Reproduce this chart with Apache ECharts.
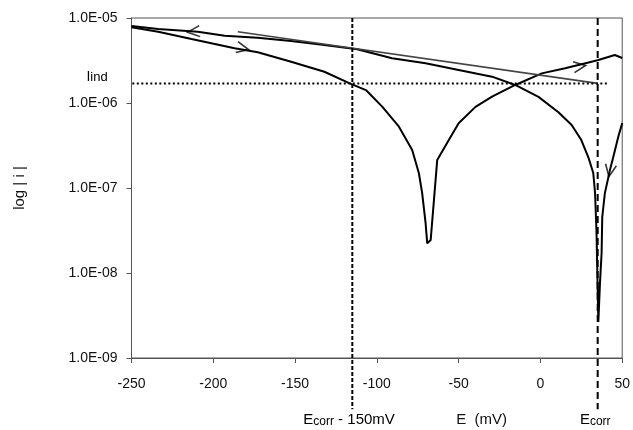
<!DOCTYPE html>
<html>
<head>
<meta charset="utf-8">
<title>log|i| - E</title>
<script src="https://cdn.jsdelivr.net/npm/echarts@6.0.0/dist/echarts.min.js"></script>
<style>
    html, body { margin: 0; padding: 0; background: #fff; }
    #main { width: 633px; height: 430px; }
</style>
</head>
<body>
<div id="main"></div>
<script type="text/javascript">

// forward scan, -250 -> +50 mV
var fwdE = [-250, -233.7, -213.3, -187, -172.8, -152.4, -132.1, -116.9, -106.7, -96.6, -86.5, -78.4,
            -74.3, -72.3, -70.2, -69.2, -67.1, -65.1, -63.1, -56, -50, -39.7, -29.6, -15.4, 0.8,
            15.1, 31.3, 35.4, 45.5, 50];
var fwdI = [7.8e-6, 6.9e-6, 5.66e-6, 4.4e-6, 3.95e-6, 3.06e-6, 2.33e-6, 1.71e-6, 1.42e-6, 9.0e-7, 5.26e-7, 2.8e-7,
            1.49e-7, 8.7e-8, 3.85e-8, 2.23e-8, 2.44e-8, 7.2e-8, 2.13e-7, 3.67e-7, 5.77e-7, 9.0e-7, 1.19e-6, 1.63e-6, 2.23e-6,
            2.56e-6, 3.06e-6, 3.2e-6, 3.67e-6, 3.38e-6];

// reverse scan, +50 -> -250 mV
var revE = [50, 47.6, 44.5, 42.5, 39.4, 37.8, 37.4, 36.4, 35.4, 35.0, 34.3, 33.4, 32.3, 29.3, 25, 19.1,
            11, -1.2, -15.4, -29.6, -50, -70.2, -90.7, -112, -132.1, -152.4, -173, -193, -209.5, -233.7, -250];
var revI = [5.8e-7, 4.0e-7, 2.3e-7, 1.63e-7, 8.7e-8, 4.56e-8, 1.72e-8, 7.6e-9, 2.65e-9, 6.3e-9, 2.95e-8, 8.7e-8, 1.5e-7, 2.3e-7, 3.67e-7, 5.5e-7,
            7.8e-7, 1.18e-6, 1.63e-6, 2.04e-6, 2.45e-6, 2.93e-6, 3.36e-6, 4.28e-6, 4.8e-6, 5.36e-6, 5.86e-6, 6.2e-6, 6.9e-6, 7.4e-6, 8.05e-6];

// straight extrapolation line
var tafelE = [-185, 35];
var tafelI = [6.9e-6, 1.7e-6];

var ecorr = 35;
var ecorrShift = -115;      // Ecorr - 150mV
var iInd = 1.7e-6;
var iIndSpan = [-255, 42];
var guideSpan = [1e-5, 2.5e-10];

// scan direction arrows: E, i, angle
var arrowE = [-212, -182, 24, 42.5];
var arrowI = [6.9e-6, 4.4e-6, 2.7e-6, 1.6e-7];
var arrowAngle = [185, -12, 8, -100];

var xTicks = [-250, -200, -150, -100, -50, 0, 50];
var yTickLabels = ['1.0E-09', '1.0E-08', '1.0E-07', '1.0E-06', '1.0E-05'];

function pairs(xs, ys) {
    return xs.map(function (x, k) { return [x, ys[k]]; });
}

var font = 'Liberation Sans';
var myChart = echarts.init(document.getElementById('main'));

var option = {
    animation: false,
    backgroundColor: '#fff',
    grid: {
        left: 131.5, right: 9, top: 18, bottom: 72,
        show: true, borderColor: '#555', borderWidth: 1
    },
    xAxis: {
        type: 'value',
        min: xTicks[0], max: xTicks[xTicks.length - 1], interval: 50,
        axisLine: { onZero: false, lineStyle: { color: '#555' } },
        axisTick: { length: 5, lineStyle: { color: '#555' } },
        axisLabel: { margin: 19, color: '#111', fontFamily: font, fontSize: 14 },
        splitLine: { show: false }
    },
    yAxis: {
        type: 'log', logBase: 10,
        min: 1e-9, max: 1e-5,
        name: 'log | i |',
        nameLocation: 'middle',
        nameGap: 104,
        nameTextStyle: { color: '#111', fontFamily: font, fontSize: 15 },
        axisLine: { show: true, onZero: false, lineStyle: { color: '#555' } },
        axisTick: { show: true, length: 5, lineStyle: { color: '#555' } },
        axisLabel: {
            margin: 14, color: '#111', fontFamily: font, fontSize: 14,
            formatter: function (v) {
                var k = Math.round(Math.log10(v)) + 9;
                return yTickLabels[k] || '';
            }
        },
        splitLine: { show: false },
        minorTick: { show: false }
    },
    series: [
        {
            type: 'line', name: 'forward', data: pairs(fwdE, fwdI),
            symbol: 'none', lineStyle: { color: '#000', width: 2 }
        },
        {
            type: 'line', name: 'reverse', data: pairs(revE, revI),
            symbol: 'none', lineStyle: { color: '#000', width: 2 }
        },
        {
            type: 'line', name: 'tafel', data: pairs(tafelE, tafelI),
            symbol: 'none', lineStyle: { color: '#444', width: 1.6 }
        },
        {
            type: 'line', name: 'iind', clip: false,
            data: [[iIndSpan[0], iInd], [iIndSpan[1], iInd]],
            symbol: 'none', lineStyle: { color: '#000', width: 2, type: [2, 2.5] }
        },
        {
            type: 'line', name: 'ecorr', clip: false,
            data: [[ecorr, guideSpan[0]], [ecorr, guideSpan[1]]],
            symbol: 'none', lineStyle: { color: '#000', width: 2, type: [7, 4] }
        },
        {
            type: 'line', name: 'ecorr-150', clip: false,
            data: [[ecorrShift, guideSpan[0]], [ecorrShift, guideSpan[1]]],
            symbol: 'none', lineStyle: { color: '#000', width: 2, type: [4, 2] }
        },
        {
            type: 'scatter', name: 'arrows',
            symbol: 'path://M0,0L10,5L0,10',
            symbolSize: [12, 11],
            symbolKeepAspect: false,
            itemStyle: { color: 'none', borderColor: '#000', borderWidth: 1.6 },
            data: arrowE.map(function (e, k) {
                return { value: [e, arrowI[k]], symbolRotate: arrowAngle[k] };
            })
        }
    ]
};

myChart.setOption(option);

// text annotations positioned from data coordinates
function px(e, i) { return myChart.convertToPixel({ gridIndex: 0 }, [e, i]); }
var yLabelRow = 420;
myChart.setOption({
    graphic: [
        {
            type: 'text', x: px(-117, iInd)[0], y: yLabelRow,
            style: {
                text: '{a|E}{b|corr}{a| - 150mV}',
                align: 'center', verticalAlign: 'middle',
                rich: { a: { fontFamily: font, fontSize: 15, color: '#111' },
                        b: { fontFamily: font, fontSize: 12, color: '#111', padding: [4, 0, 0, 0] } }
            }
        },
        {
            type: 'text', x: px(-36, iInd)[0], y: yLabelRow,
            style: { text: 'E  (mV)', align: 'center', verticalAlign: 'middle',
                     fontFamily: font, fontSize: 15, fill: '#111' }
        },
        {
            type: 'text', x: px(33.5, iInd)[0], y: yLabelRow,
            style: {
                text: '{a|E}{b|corr}',
                align: 'center', verticalAlign: 'middle',
                rich: { a: { fontFamily: font, fontSize: 15, color: '#111' },
                        b: { fontFamily: font, fontSize: 12, color: '#111', padding: [4, 0, 0, 0] } }
            }
        },
        {
            type: 'text', x: 97, y: px(-250, iInd)[1] - 6,
            style: {
                text: '{a|I}{b|ind}',
                align: 'center', verticalAlign: 'middle',
                rich: { a: { fontFamily: font, fontSize: 14, color: '#111' },
                        b: { fontFamily: font, fontSize: 13, color: '#111' } }
            }
        }
    ]
});

</script>
</body>
</html>
